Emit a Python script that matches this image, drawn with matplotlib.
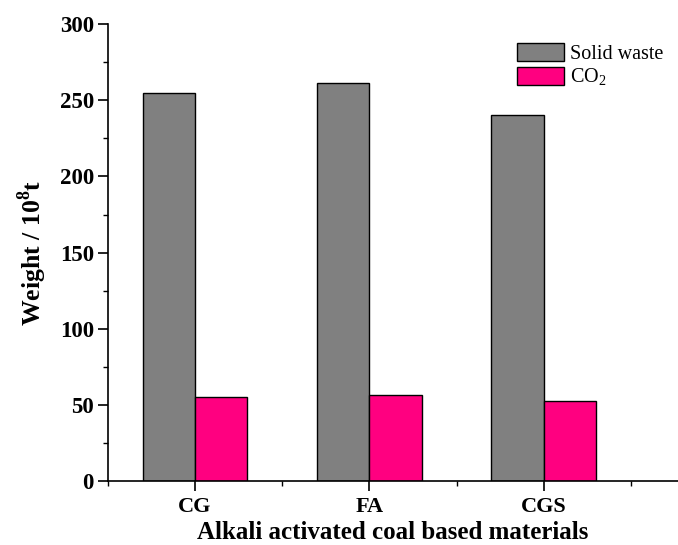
import matplotlib
matplotlib.use("Agg")
import matplotlib.pyplot as plt
import numpy as np
from matplotlib.ticker import MultipleLocator, FixedLocator

categories = ["CG", "FA", "CGS"]
solid_waste = [254.5, 261.0, 240.5]
co2 = [55.5, 56.5, 52.5]

plt.rcParams['font.family'] = ['Liberation Serif', 'DejaVu Serif']
plt.rcParams['mathtext.fontset'] = 'custom'
plt.rcParams['mathtext.rm'] = 'Liberation Serif'
plt.rcParams['mathtext.bf'] = 'Liberation Serif:bold'

fig = plt.figure(figsize=(6.78, 5.45), dpi=100)
ax = fig.add_axes([0.159, 0.117, 0.841, 0.839])

x = np.arange(1, len(categories) + 1)
w = 0.30
ax.bar(x - w/2, solid_waste, w, color='#808080', edgecolor='black', linewidth=1.0, label='Solid waste')
ax.bar(x + w/2, co2, w, color='#FF0080', edgecolor='black', linewidth=1.0, label=r'CO$_\mathrm{2}$')

ax.set_xlim(0.5, 3.77)
ax.set_ylim(0, 300)
ax.set_xticks(x)
ax.set_xticklabels(categories, fontsize=16, fontweight='bold')
ax.xaxis.set_minor_locator(FixedLocator([0.5, 1.5, 2.5, 3.5]))
ax.yaxis.set_major_locator(MultipleLocator(50))
ax.yaxis.set_minor_locator(MultipleLocator(25))
for lab in ax.get_yticklabels():
    lab.set_fontsize(16.5)
    lab.set_fontweight('bold')
ax.tick_params(axis='y', which='major', direction='out', length=7, width=1.2, pad=3)
ax.tick_params(axis='x', which='major', direction='out', length=7, width=1.2, pad=4)
ax.tick_params(axis='both', which='minor', direction='out', length=3.5, width=1.0)

ax.spines['top'].set_visible(False)
ax.spines['right'].set_visible(False)
ax.spines['left'].set_linewidth(1.2)
ax.spines['bottom'].set_linewidth(1.2)

ax.set_xlabel('Alkali activated coal based materials', fontsize=18, fontweight='bold', labelpad=3)
ax.set_ylabel(r'Weight / 10$^\mathbf{8}$t', fontsize=18.5, fontweight='bold', labelpad=8)

leg = ax.legend(loc='upper right', bbox_to_anchor=(0.995, 0.985), fontsize=14.5, frameon=False,
                handlelength=2.3, handleheight=1.0, handletextpad=0.3, labelspacing=0.15,
                borderaxespad=0.2)

fig.savefig('out.png', dpi=100)
